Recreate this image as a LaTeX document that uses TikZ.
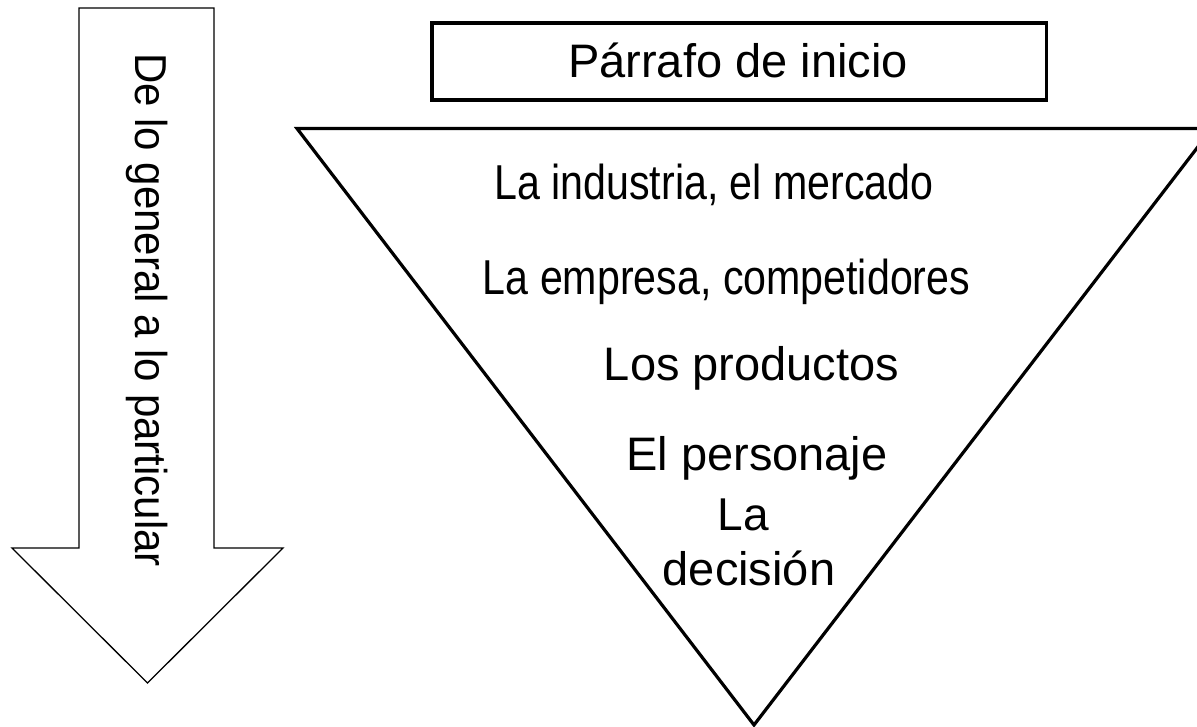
\documentclass[tikz,border=0pt]{standalone}
\usepackage{fontspec}
\setmainfont{Liberation Sans}
\newfontfamily\condfont[FakeStretch=0.84]{Liberation Sans}
\newfontfamily\vertfont[FakeStretch=0.94]{Liberation Sans}
\begin{document}
\begin{tikzpicture}[x=1pt,y=-1pt,
  txt/.style={anchor=base,inner sep=0pt,outer sep=0pt,font=\fontsize{47}{52}\selectfont},
  condtxt/.style={anchor=base,inner sep=0pt,outer sep=0pt,font=\condfont\fontsize{49}{54}\selectfont},
  verttxt/.style={anchor=base,inner sep=0pt,outer sep=0pt,rotate=-90,font=\vertfont\fontsize{44.7}{50}\selectfont},
  thinline/.style={draw=black,line width=1.3pt,line join=miter},
  thickline/.style={draw=black,line width=3.2pt,line join=miter}]
\useasboundingbox (0,0) rectangle (1197,727);
\clip (0,0) rectangle (1197,727);
% big down arrow
\draw[thinline] (79,8) -- (214,8) -- (214,548) -- (283,548) -- (147.5,683) -- (12,548) -- (79,548) -- cycle;
% title box
\draw[thickline] (432,23) rectangle (1046.5,100);
% inverted triangle
\draw[thickline] (297,128.5) -- (1212,128.5) -- (754,725) -- cycle;
% texts
\node[verttxt] (vt) at (135,310) {De lo general a lo particular};
\node[txt] (title) at (738,78) {Párrafo de inicio};
\node[condtxt] (t1) at (714,200) {La industria, el mercado};
\node[condtxt] (t2) at (726.5,295) {La empresa, competidores};
\node[txt] (t3) at (751.5,380) {Los productos};
\node[txt] (t4) at (757,470) {El personaje};
\node[txt,font=\fontsize{46}{50}\selectfont] (t5) at (743,530) {La};
\node[txt] (t6) at (749,585) {decisión};
\end{tikzpicture}
\end{document}
